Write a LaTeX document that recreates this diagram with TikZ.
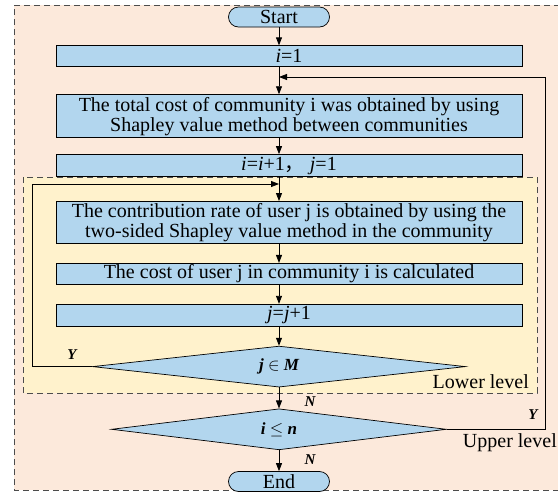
\documentclass[tikz,border=0pt]{standalone}
\usepackage{fontspec}
\setmainfont{Liberation Serif}
\newfontfamily\cjk{Noto Sans CJK SC}
\usetikzlibrary{arrows.meta,positioning,shapes.geometric,calc}
\definecolor{peach}{RGB}{252,233,219}
\definecolor{cream}{RGB}{255,242,204}
\definecolor{skyb}{RGB}{178,214,238}
\tikzset{
  blk/.style={draw, rectangle, fill=skyb, line width=0.9pt, minimum width=466pt, minimum height=21pt, inner sep=0pt, align=center, font=\fontsize{20}{20}\selectfont},
  term/.style={draw, rectangle, rounded corners=10pt, fill=skyb, line width=0.7pt, minimum width=101pt, minimum height=20pt, inner sep=0pt, font=\fontsize{20}{20}\selectfont},
  dec/.style={draw, diamond, aspect=9, fill=skyb, line width=0.7pt, inner sep=0pt, font=\fontsize{17}{17}\selectfont\itshape\bfseries},
  lbl/.style={font=\fontsize{15}{15}\selectfont\itshape\bfseries, inner sep=0pt},
  lvl/.style={font=\fontsize{20}{20}\selectfont, inner sep=0pt},
  frm/.style={draw=black!70, dash pattern=on 6pt off 4pt, line width=0.8pt},
  arr/.style={-{Triangle[length=8pt, width=6pt]}, line width=0.8pt},
}
\begin{document}
\begin{tikzpicture}[x=1pt, y=-1pt]
\clip (0,0) rectangle (558,493);

% levels
\fill[peach] (14,5) rectangle (600,490);
\draw[frm] (600,5) -- (14,5) -- (14,490) -- (600,490);
\draw[frm, fill=cream] (23,177) rectangle (537,393);

\node[term] (start) at (279,17) {Start};
\node[blk, below=18pt of start, xshift=10pt] (b1) {\textit{i}=1};
\node[blk, below=27pt of b1, minimum height=43pt] (b2)
  {The total cost of community i was obtained by using\\Shapley value method between communities};
\node[blk, below=16pt of b2, minimum height=22pt] (b3) {\textit{i}=\textit{i}+1{\cjk ，}\ \textit{j}=1};
\node[blk, below=24pt of b3, minimum height=42pt] (b4)
  {The contribution rate of user j is obtained by using the\\two-sided Shapley value method in the community};
\node[blk, below=19pt of b4] (b5) {The cost of user j in community i is calculated};
\node[blk, below=19pt of b5, minimum height=22pt] (b6) {\textit{j}=\textit{j}+1};
\node[dec, below=19pt of b6, xshift=-10pt, minimum width=373pt, minimum height=41pt] (d1) {j $\in$ M};
\node[dec, below=21pt of d1, minimum width=335pt, minimum height=41pt] (d2) {i $\leq$ n};
\node[term, below=21pt of d2] (end) {End};

\node[lvl, anchor=east] (low) at (529,382) {Lower level};
\node[lvl, anchor=east] (up) at (557,443) {Upper level};

\coordinate (m1) at (279,77);
\coordinate (m2) at (279,184);
\coordinate (rx) at (545,0);
\coordinate (lx) at (32,0);

\draw[arr] (start) -- (start |- b1.north);
\draw[arr] (b1.south -| start) -- (start |- b2.north);
\draw[arr] (b2.south -| start) -- (start |- b3.north);
\draw[arr] (b3.south -| start) -- (start |- b4.north);
\draw[arr] (b4.south -| start) -- (start |- b5.north);
\draw[arr] (b5.south -| start) -- (start |- b6.north);
\draw[arr] (b6.south -| start) -- (d1);
\draw[arr] (d1) -- (d2);
\draw[arr] (d2) -- (end);

% loops
\draw[arr] (d1.west) -| (lx |- m2) -- (m2);
\draw[arr] (d2.east) -| (rx |- m1) -- (m1);

\node[lbl] (y1) at (72,355) {Y};
\node[lbl] (n1) at (310,402) {N};
\node[lbl] (y2) at (533,415) {Y};
\node[lbl] (n2) at (310,460) {N};

\end{tikzpicture}
\end{document}
